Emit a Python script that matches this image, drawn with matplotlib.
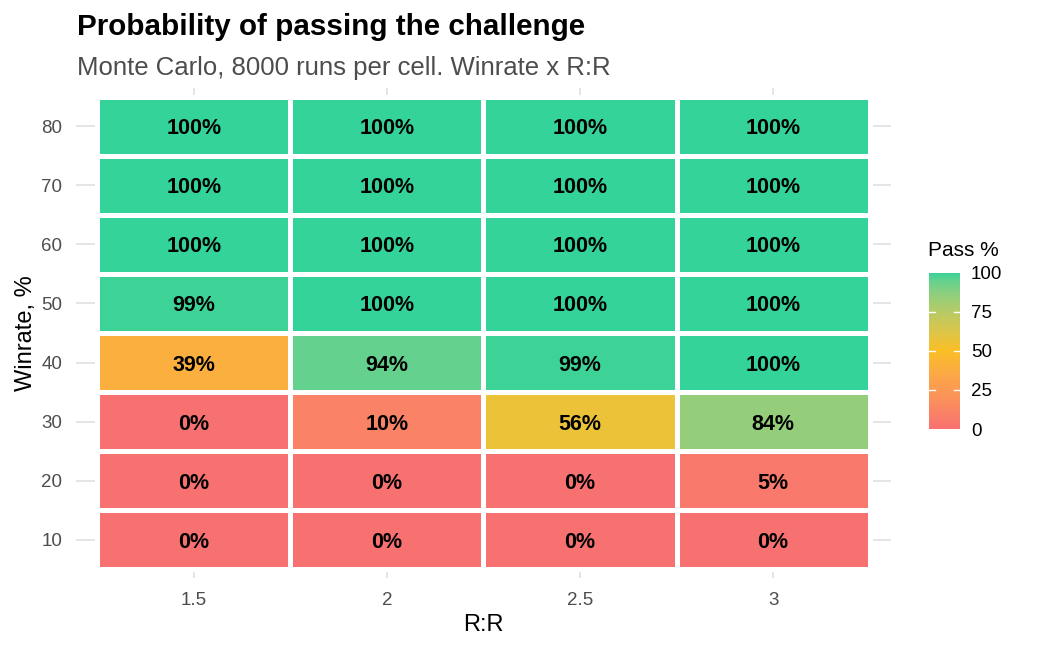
import numpy as np
import matplotlib
matplotlib.use('Agg')
import matplotlib.pyplot as plt
from matplotlib.colors import ListedColormap

plt.rcParams['font.family'] = ['Liberation Sans', 'DejaVu Sans']

# data
rr_values = [1.5, 2, 2.5, 3]
winrates = [10, 20, 30, 40, 50, 60, 70, 80]
# pass % per winrate row (rows = winrate 10..80, cols = R:R 1.5..3)
pass_pct = np.array([
    [0, 0, 0, 0],
    [0, 0, 0, 5],
    [0, 10, 56, 84],
    [39, 94, 99, 100],
    [99, 100, 100, 100],
    [100, 100, 100, 100],
    [100, 100, 100, 100],
    [100, 100, 100, 100],
])
ramp_colors = ['#F87171', '#FBBF24', '#34D399']


# colour ramp interpolated in CIELAB, like ggplot
def hex_to_rgb(h):
    h = h.lstrip('#')
    return np.array([int(h[i:i + 2], 16) / 255 for i in (0, 2, 4)])


def rgb_to_lab(c):
    c = np.where(c > 0.04045, ((c + 0.055) / 1.055) ** 2.4, c / 12.92)
    m = np.array([[0.4124, 0.3576, 0.1805],
                  [0.2126, 0.7152, 0.0722],
                  [0.0193, 0.1192, 0.9505]])
    xyz = m @ c / np.array([0.95047, 1.0, 1.08883])
    f = np.where(xyz > 0.008856, np.cbrt(xyz), 7.787 * xyz + 16 / 116)
    return np.array([116 * f[1] - 16, 500 * (f[0] - f[1]), 200 * (f[1] - f[2])])


def lab_to_rgb(lab):
    fy = (lab[0] + 16) / 116
    fx = fy + lab[1] / 500
    fz = fy - lab[2] / 200
    f = np.array([fx, fy, fz])
    xyz = np.where(f ** 3 > 0.008856, f ** 3, (f - 16 / 116) / 7.787)
    xyz = xyz * np.array([0.95047, 1.0, 1.08883])
    m = np.array([[3.2406, -1.5372, -0.4986],
                  [-0.9689, 1.8758, 0.0415],
                  [0.0557, -0.2040, 1.0570]])
    c = m @ xyz
    c = np.where(c > 0.0031308, 1.055 * np.abs(c) ** (1 / 2.4) - 0.055, 12.92 * c)
    return np.clip(c, 0, 1)


labs = [rgb_to_lab(hex_to_rgb(h)) for h in ramp_colors]
ramp = []
for t in np.linspace(0, 1, 256):
    seg = min(int(t * 2), 1)
    u = t * 2 - seg
    ramp.append(lab_to_rgb(labs[seg] * (1 - u) + labs[seg + 1] * u))
cmap = ListedColormap(ramp)

fig = plt.figure(figsize=(10.4, 6.5), dpi=100)
ax = fig.add_axes([0.0731, 0.1108, 0.7836, 0.7538])

x_edges = np.array([1.25, 1.75, 2.25, 2.75, 3.25])
y_edges = np.arange(5, 90, 10)
ax.pcolormesh(x_edges, y_edges, pass_pct, cmap=cmap, vmin=0, vmax=100,
              edgecolors='white', linewidth=3.6, zorder=2)

for i, w in enumerate(winrates):
    for j, r in enumerate(rr_values):
        ax.text(r, w, f'{pass_pct[i, j]}%', ha='center', va='center_baseline',
                fontsize=15.5, fontweight='bold', color='black', zorder=3)

ax.set_xlim(1.195, 3.305)
ax.set_ylim(3.5, 86.5)
ax.set_xticks(rr_values)
ax.set_xticklabels(['1.5', '2', '2.5', '3'])
ax.set_yticks(winrates)
for s in ax.spines.values():
    s.set_visible(False)
ax.grid(True, color='#E3E3E3', linewidth=1.3, zorder=0)
ax.set_axisbelow(True)
ax.tick_params(length=0, labelsize=13.5, labelcolor='#4D4D4D')
ax.tick_params(axis='x', pad=10)
ax.tick_params(axis='y', pad=10)
ax.set_xlabel('R:R', fontsize=17, labelpad=4)
ax.set_ylabel('Winrate, %', fontsize=17, labelpad=3)

fig.text(0.074, 0.958, 'Probability of passing the challenge', fontsize=21.3,
         fontweight='bold', va='center', ha='left')
fig.text(0.074, 0.895, 'Monte Carlo, 8000 runs per cell. Winrate x R:R', fontsize=18.5,
         color='#4D4D4D', va='center', ha='left')

# legend colourbar
cax = fig.add_axes([0.893, 0.34, 0.0298, 0.24])
grad = np.linspace(0, 100, 256).reshape(-1, 1)
cax.imshow(grad, cmap=cmap, aspect='auto', origin='lower', extent=[0, 1, 0, 100])
cax.set_xlim(0, 1)
cax.set_ylim(0, 100)
cax.set_xticks([])
cax.yaxis.tick_right()
cax.set_yticks([0, 25, 50, 75, 100])
cax.tick_params(axis='y', length=0, labelsize=13.5, labelcolor='black', pad=8)
for s in cax.spines.values():
    s.set_visible(False)
for v in [25, 50, 75]:
    cax.plot([0, 0.2], [v, v], color='white', lw=1)
    cax.plot([0.8, 1], [v, v], color='white', lw=1)
fig.text(0.892, 0.615, 'Pass %', fontsize=15, va='center', ha='left')

fig.savefig('out.png', dpi=100)
